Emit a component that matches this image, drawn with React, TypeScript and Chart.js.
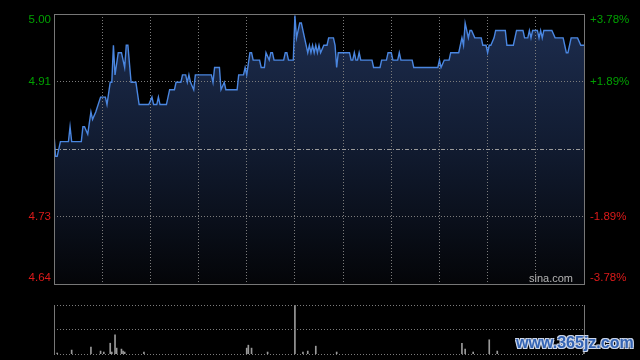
import React, { useEffect, useRef } from "react";
import { Chart, registerables } from "chart.js";

Chart.register(...registerables);

// ---- data ----
const PREV_CLOSE = 4.82;
const RANGE_PCT = 0.0378;
const TOTAL_MINUTES = 330;

const priceMinutes = [
  0, 1, 2, 4, 9, 10, 11, 17, 18, 19, 21, 23, 24, 26, 29, 32, 33, 35, 36, 37, 38, 40, 42, 44, 45, 46, 48, 51, 53, 59,
  61, 62, 64, 65, 66, 70, 72, 75, 76, 79, 80, 82, 83, 84, 85, 87, 88, 98, 99, 100, 103, 104, 106, 107, 114, 115, 118,
  119, 120, 122, 123, 124, 128, 129, 131, 132, 134, 135, 136, 137, 143, 144, 145, 146, 149, 150, 151, 153, 154, 156,
  158, 159, 160, 161, 162, 163, 164, 165, 166, 168, 170, 171, 174, 175, 176, 177, 184, 185, 186, 187, 188, 189, 190,
  191, 198, 199, 203, 204, 207, 208, 210, 211, 214, 215, 216, 223, 224, 239, 240, 241, 243, 246, 247, 252, 253, 254,
  255, 256, 257, 258, 259, 260, 262, 266, 267, 269, 270, 271, 272, 274, 275, 281, 282, 286, 287, 288, 292, 293, 295,
  296, 297, 298, 301, 302, 303, 304, 305, 310, 312, 317, 318, 319, 320, 322, 326, 328, 330,
];
const prices = [
  4.84, 4.81, 4.81, 4.83, 4.83, 4.85, 4.83, 4.83, 4.85, 4.85, 4.84, 4.87, 4.86, 4.87, 4.89, 4.89, 4.88, 4.91, 4.91, 4.96,
  4.92, 4.95, 4.95, 4.93, 4.96, 4.96, 4.91, 4.91, 4.88, 4.88,
  4.89, 4.88, 4.88, 4.89, 4.88, 4.88, 4.90, 4.90, 4.91, 4.91, 4.92, 4.92, 4.91, 4.92, 4.91, 4.90, 4.92, 4.92, 4.91,
  4.93, 4.93, 4.90, 4.91, 4.90, 4.90, 4.92, 4.92,
  4.93, 4.92, 4.95, 4.95, 4.94, 4.94, 4.93, 4.93, 4.95, 4.94, 4.95, 4.95, 4.94, 4.94, 4.95, 4.95, 4.94, 4.94, 5.00,
  4.97, 4.99, 4.99, 4.97,
  4.95, 4.96, 4.95, 4.96, 4.95, 4.96, 4.95, 4.96, 4.95, 4.96, 4.96, 4.97, 4.97, 4.96, 4.93, 4.95, 4.95, 4.94, 4.94,
  4.95, 4.94, 4.94, 4.95,
  4.94, 4.94, 4.93, 4.93, 4.94, 4.94, 4.95, 4.95, 4.94, 4.94, 4.95, 4.94, 4.94, 4.93, 4.93, 4.94, 4.93, 4.94, 4.94,
  4.95, 4.95, 4.96, 4.97,
  4.96, 4.99, 4.98, 4.97, 4.98, 4.98, 4.97, 4.97, 4.96, 4.96, 4.95, 4.96, 4.96, 4.97, 4.98, 4.98, 4.96, 4.96, 4.97,
  4.98, 4.98, 4.97, 4.97,
  4.98, 4.97, 4.98, 4.98, 4.97, 4.98, 4.97, 4.98, 4.98, 4.97, 4.97, 4.96, 4.95, 4.95, 4.97, 4.97, 4.96, 4.96,
];

const volMinutes = [2, 11, 23, 29, 31, 35, 36, 38, 39, 42, 43, 44, 56, 120, 121, 123, 133, 150, 155, 158, 163, 176, 254, 256, 261, 271, 276, 330];
const volValues = [2, 8, 14, 6, 4, 22, 4, 39, 12, 10, 6, 4, 4, 12, 18, 12, 4, 150, 4, 6, 16, 4, 22, 10, 4, 29, 6, 4];
const VOL_MAX = 100;

const gridMinutes = [30, 60, 90, 120, 150, 180, 210, 240, 270, 300];
const tickPercents = [0.0378, 0.0189, -0.0189, -0.0378];
const leftTickLabels = ["5.00", "4.91", "4.73", "4.64"];
const rightTickLabels = ["+3.78%", "+1.89%", "-1.89%", "-3.78%"];

const UP_COLOR = "#00a000";
const DOWN_COLOR = "#dd1a1a";
const GRID_COLOR = "#7c7c7c";
const FRAME_COLOR = "#777777";
const FONT = "Liberation Sans, Arial, sans-serif";

function crisp(v: number) {
  return Math.round(v - 0.5) + 0.5;
}

const pricePlugin = {
  id: "priceDecor",
  beforeDatasetsDraw(chart: any) {
    const { ctx, chartArea: a, scales } = chart;
    const x = scales.x;
    const y = scales.y;
    ctx.save();
    ctx.lineWidth = 1;
    ctx.strokeStyle = GRID_COLOR;
    ctx.setLineDash([1, 2]);
    gridMinutes.forEach((m) => {
      const px = crisp(x.getPixelForValue(m));
      ctx.beginPath();
      ctx.moveTo(px, a.top);
      ctx.lineTo(px, a.bottom);
      ctx.stroke();
    });
    tickPercents.forEach((p) => {
      if (Math.abs(p) >= RANGE_PCT) return;
      const py = crisp(y.getPixelForValue(PREV_CLOSE * (1 + p)));
      ctx.beginPath();
      ctx.moveTo(a.left, py);
      ctx.lineTo(a.right, py);
      ctx.stroke();
    });
    // previous close line
    ctx.strokeStyle = "#9a9a9a";
    ctx.setLineDash([4, 2, 1, 2]);
    const py = crisp(y.getPixelForValue(PREV_CLOSE));
    ctx.beginPath();
    ctx.moveTo(a.left, py);
    ctx.lineTo(a.right, py);
    ctx.stroke();
    ctx.restore();
  },
  afterDatasetsDraw(chart: any) {
    const { ctx, chartArea: a, scales } = chart;
    const y = scales.y;
    ctx.save();
    // frame
    ctx.lineWidth = 1;
    ctx.strokeStyle = FRAME_COLOR;
    ctx.strokeRect(crisp(a.left), crisp(a.top), Math.round(a.right - a.left), Math.round(a.bottom - a.top));
    // tick labels
    ctx.font = `11.5px ${FONT}`;
    ctx.textBaseline = "middle";
    tickPercents.forEach((p, i) => {
      let ty = y.getPixelForValue(PREV_CLOSE * (1 + p));
      ty = Math.min(Math.max(ty, a.top + 6), a.bottom - 6);
      ctx.fillStyle = p > 0 ? UP_COLOR : DOWN_COLOR;
      ctx.textAlign = "right";
      ctx.fillText(leftTickLabels[i], a.left - 3, ty);
      ctx.textAlign = "left";
      ctx.fillText(rightTickLabels[i], a.right + 6, ty);
    });
    // watermark
    ctx.font = `11px ${FONT}`;
    ctx.fillStyle = "#b4b4b4";
    ctx.textAlign = "right";
    ctx.fillText("sina.com", a.right - 11, a.bottom - 5);
    ctx.restore();
  },
};

const volPlugin = {
  id: "volDecor",
  afterDatasetsDraw(chart: any) {
    const { ctx, chartArea: a } = chart;
    ctx.save();
    ctx.lineWidth = 1;
    ctx.strokeStyle = GRID_COLOR;
    ctx.setLineDash([1, 2]);
    const mid = crisp((a.top + a.bottom) / 2);
    [crisp(a.top), mid, crisp(a.bottom)].forEach((py) => {
      ctx.beginPath();
      ctx.moveTo(a.left, py);
      ctx.lineTo(a.right, py);
      ctx.stroke();
    });
    ctx.setLineDash([]);
    ctx.strokeStyle = FRAME_COLOR;
    [crisp(a.left), crisp(a.right)].forEach((px) => {
      ctx.beginPath();
      ctx.moveTo(px, a.top);
      ctx.lineTo(px, a.bottom);
      ctx.stroke();
    });
    ctx.restore();
  },
};

export default function App() {
  const priceRef = useRef<HTMLCanvasElement>(null);
  const volRef = useRef<HTMLCanvasElement>(null);

  useEffect(() => {
    const yMin = PREV_CLOSE * (1 - RANGE_PCT);
    const yMax = PREV_CLOSE * (1 + RANGE_PCT);
    const priceChart = new Chart(priceRef.current as HTMLCanvasElement, {
      type: "line",
      data: {
        datasets: [
          {
            data: priceMinutes.map((m, i) => ({ x: m, y: prices[i] })),
            borderColor: "#4a86e0",
            borderWidth: 1.4,
            pointRadius: 0,
            tension: 0,
            fill: "start",
            backgroundColor: (c: any) => {
              const area = c.chart.chartArea;
              if (!area) return "rgba(25,40,70,0.8)";
              const g = c.chart.ctx.createLinearGradient(0, area.top, 0, area.bottom);
              g.addColorStop(0, "#1d2d4f");
              g.addColorStop(0.5, "#111b30");
              g.addColorStop(1, "#040508");
              return g;
            },
          },
        ],
      },
      options: {
        animation: false,
        responsive: false,
        maintainAspectRatio: false,
        layout: { padding: { left: 54, right: 56, top: 14, bottom: 16 } },
        scales: {
          x: { type: "linear", min: 0, max: TOTAL_MINUTES, display: false },
          y: { type: "linear", min: yMin, max: yMax, display: false },
        },
        plugins: {
          legend: { display: false },
          tooltip: { enabled: false },
          filler: { drawTime: "beforeDatasetsDraw" },
        },
      },
      plugins: [pricePlugin],
    } as any);

    const volChart = new Chart(volRef.current as HTMLCanvasElement, {
      type: "bar",
      data: {
        datasets: [
          {
            data: volMinutes.map((m, i) => ({ x: m, y: volValues[i] })),
            backgroundColor: "#9a9a9a",
            barThickness: 1,
            borderWidth: 0,
          },
        ],
      },
      options: {
        animation: false,
        responsive: false,
        maintainAspectRatio: false,
        layout: { padding: { left: 54, right: 56, top: 15, bottom: 6 } },
        scales: {
          x: { type: "linear", min: 0, max: TOTAL_MINUTES, display: false, offset: false },
          y: { type: "linear", min: 0, max: VOL_MAX, display: false },
        },
        plugins: { legend: { display: false }, tooltip: { enabled: false } },
      },
      plugins: [volPlugin],
    } as any);

    return () => {
      priceChart.destroy();
      volChart.destroy();
    };
  }, []);

  return (
    <div
      style={{
        position: "fixed",
        left: 0,
        top: 0,
        width: 640,
        height: 360,
        background: "#000",
        overflow: "hidden",
      }}
    >
      <canvas ref={priceRef} width={640} height={300} style={{ position: "absolute", left: 0, top: 0, width: 640, height: 300 }} />
      <canvas ref={volRef} width={640} height={70} style={{ position: "absolute", left: 0, top: 290, width: 640, height: 70 }} />
      <span
        style={{
          position: "absolute",
          left: 516,
          top: 334,
          font: "bold 16px Liberation Sans, Arial, sans-serif",
          color: "#3464b4",
          textShadow: "1px 1px 0 #cdd7ea, -1px -1px 0 #cdd7ea, 1px -1px 0 #cdd7ea, -1px 1px 0 #cdd7ea",
          whiteSpace: "nowrap",
        }}
      >
        www.365jz.com
      </span>
    </div>
  );
}
